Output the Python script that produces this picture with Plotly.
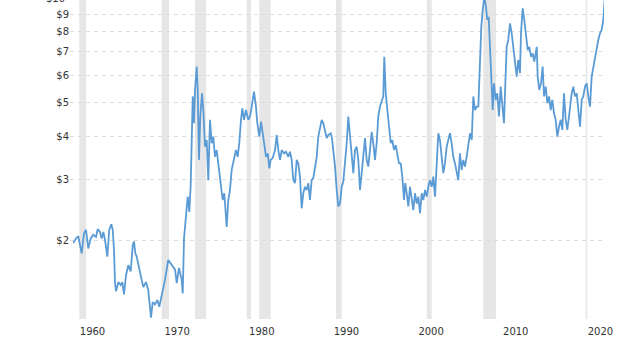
import plotly.graph_objects as go

# Price series (year, $ value)
years = [1957.73,1958.05,1958.32,1958.52,1958.72,1959.0,1959.23,1959.5,1959.79,1960.09,
1960.41,1960.61,1960.89,1961.09,1961.28,1961.48,1961.75,1961.98,1962.22,1962.39,
1962.54,1962.66,1962.78,1963.05,1963.33,1963.52,1963.72,1963.96,1964.23,1964.51,
1964.75,1964.90,1965.06,1965.22,1965.41,1965.61,1965.76,1966.0,1966.32,1966.59,
1966.79,1966.91,1967.11,1967.38,1967.66,1967.89,1968.36,1968.56,1968.95,1969.36,
1969.75,1969.95,1970.22,1970.54,1970.66,1970.81,1971.05,1971.25,1971.44,1971.60,
1971.84,1971.99,1972.11,1972.31,1972.43,1972.58,1972.73,1972.94,1973.09,1973.29,
1973.49,1973.68,1973.88,1974.08,1974.27,1974.47,1974.67,1974.94,1975.18,1975.38,
1975.57,1975.85,1976.04,1976.24,1976.44,1976.63,1976.95,1977.15,1977.34,1977.54,
1977.70,1977.90,1978.13,1978.41,1978.61,1978.81,1979.08,1979.31,1979.47,1979.70,
1979.91,1980.11,1980.30,1980.50,1980.70,1980.89,1981.05,1981.29,1981.56,1981.76,
1981.95,1982.15,1982.35,1982.62,1982.86,1983.13,1983.33,1983.53,1983.72,1983.92,
1984.12,1984.31,1984.51,1984.71,1984.90,1985.10,1985.30,1985.49,1985.69,1985.89,
1986.08,1986.28,1986.49,1986.67,1986.88,1987.08,1987.27,1987.47,1987.67,1987.86,
1988.14,1988.29,1988.45,1988.65,1988.85,1989.04,1989.24,1989.44,1989.63,1989.83,
1990.03,1990.22,1990.42,1990.62,1990.81,1991.01,1991.21,1991.40,1991.60,1991.80,
1991.99,1992.19,1992.39,1992.58,1992.78,1992.98,1993.17,1993.37,1993.57,1993.76,
1993.96,1994.16,1994.35,1994.47,1994.64,1994.83,1995.03,1995.23,1995.42,1995.62,
1995.82,1996.01,1996.21,1996.41,1996.60,1996.80,1996.95,1997.12,1997.31,1997.51,
1997.71,1997.90,1998.10,1998.30,1998.49,1998.69,1998.89,1999.08,1999.28,1999.48,
1999.67,1999.87,2000.07,2000.26,2000.46,2000.66,2000.85,2001.05,2001.25,2001.44,
2001.64,2001.84,2002.03,2002.23,2002.43,2002.62,2002.82,2003.02,2003.21,2003.41,
2003.61,2003.80,2004.0,2004.20,2004.39,2004.59,2004.80,2004.99,2005.19,2005.39,
2005.58,2005.78,2005.93,2006.10,2006.28,2006.48,2006.64,2006.80,2006.96,2007.16,
2007.28,2007.43,2007.63,2007.82,2008.02,2008.22,2008.41,2008.61,2008.77,2008.93,
2009.12,2009.32,2009.52,2009.71,2009.91,2010.11,2010.30,2010.50,2010.62,2010.82,
2011.01,2011.21,2011.41,2011.60,2011.80,2012.0,2012.19,2012.48,2012.59,2012.78,
2012.98,2013.18,2013.34,2013.54,2013.73,2013.93,2014.13,2014.32,2014.52,2014.72,
2014.91,2015.11,2015.31,2015.50,2015.70,2015.90,2016.09,2016.29,2016.61,2016.80,
2017.0,2017.20,2017.39,2017.59,2017.79,2017.98,2018.18,2018.38,2018.57,2018.77,
2018.97,2019.16,2019.36,2019.56,2019.75,2019.95,2020.15,2020.34,2020.54]

prices = [1.97,2.03,2.06,1.94,1.84,2.10,2.15,1.90,2.03,2.08,
2.05,2.16,2.12,2.03,2.12,2.01,1.80,2.15,2.23,2.15,
1.88,1.51,1.43,1.52,1.49,1.52,1.40,1.59,1.70,1.63,
1.94,1.99,1.84,1.80,1.72,1.65,1.56,1.47,1.52,1.44,
1.28,1.20,1.33,1.31,1.35,1.29,1.46,1.54,1.76,1.70,
1.65,1.51,1.67,1.54,1.41,2.03,2.35,2.68,2.42,2.89,
5.21,4.36,5.43,6.35,5.43,3.42,4.56,5.32,4.76,3.73,
3.90,2.99,4.46,3.82,3.99,3.49,3.65,3.20,2.86,2.62,
2.74,2.19,2.62,2.80,3.20,3.34,3.65,3.49,3.82,4.46,
4.81,4.46,4.76,4.46,4.56,4.87,5.38,4.87,4.36,3.99,
4.41,4.08,3.73,3.49,3.57,3.23,3.42,3.46,3.65,4.03,
3.65,3.42,3.65,3.57,3.61,3.49,3.61,3.42,2.99,2.93,
3.42,3.34,3.06,2.48,2.74,2.86,2.80,2.93,2.62,2.99,
3.03,3.27,3.49,3.99,4.26,4.46,4.36,4.12,3.95,4.03,
4.08,3.95,3.65,3.27,2.80,2.51,2.56,2.86,2.96,3.34,
3.82,4.56,4.08,3.49,3.13,3.65,3.73,3.42,2.80,3.13,
3.57,3.95,3.42,3.27,3.65,4.12,3.82,3.42,3.82,4.56,
4.87,5.09,5.21,6.78,5.32,4.76,4.26,3.82,3.90,3.65,
3.77,3.57,3.34,3.34,3.06,2.62,2.93,2.74,2.51,2.86,
2.62,2.45,2.74,2.56,2.68,2.40,2.74,2.62,2.80,2.68,
2.86,2.99,2.86,3.06,2.68,3.42,4.08,3.90,3.42,3.13,
3.34,3.73,3.90,4.08,3.82,3.49,3.34,3.13,2.99,3.57,
3.20,3.42,3.27,3.49,3.82,4.08,3.90,5.21,4.76,4.87,
4.87,6.49,8.28,9.25,10.1,9.44,8.65,8.84,7.24,5.81,
4.76,5.68,5.09,5.32,4.56,5.56,4.87,4.36,5.68,7.24,
7.58,8.46,7.92,7.24,6.49,5.94,6.64,6.08,7.92,9.35,
8.65,7.74,7.09,7.24,6.78,6.93,6.56,7.24,5.94,5.44,
5.68,6.35,5.21,5.56,4.98,5.21,4.76,5.09,4.66,4.46,
3.99,4.26,4.46,4.17,5.32,4.46,4.17,4.56,5.32,5.56,
5.21,5.32,4.76,4.26,5.09,5.21,5.56,5.68,5.21,4.87,
5.94,6.35,6.64,7.24,7.58,7.92,8.10,8.65,10.3]

# Shaded periods (axis years as drawn)
shade_start = [1958.44, 1968.17, 1972.11, 1978.22, 1979.70, 1988.77, 1999.48, 2006.17, 2018.26]
shade_end   = [1959.23, 1969.04, 1973.41, 1978.72, 1981.05, 1989.44, 2000.07, 2007.67, 2018.45]

x_ticks = [1960, 1970, 1980, 1990, 2000, 2010, 2020]
y_ticks = [2, 3, 4, 5, 6, 7, 8, 9]
y_labels = ["$" + str(v) for v in y_ticks]

fig = go.Figure()
fig.add_trace(go.Scatter(x=years, y=prices, mode="lines",
                         line=dict(color="#5b9bd5", width=1.8),
                         hoverinfo="skip", showlegend=False))

for s, e in zip(shade_start, shade_end):
    fig.add_shape(type="rect", xref="x", yref="paper", x0=s, x1=e, y0=0, y1=1,
                  fillcolor="#e6e6e6", line=dict(width=0), layer="below")

font = dict(family="DejaVu Sans", size=10, color="#333333")

# top label, partly cut off by the top edge as in the original
fig.add_annotation(text="$10", xref="paper", yref="paper", x=0, y=1,
                   xanchor="right", yanchor="middle", xshift=-3, yshift=2,
                   showarrow=False, font=font)

fig.update_layout(
    width=640, height=340,
    margin=dict(l=70, r=36, t=0, b=21),
    paper_bgcolor="white", plot_bgcolor="white",
    font=font,
    xaxis=dict(range=[1957.342, 2020.425], tickvals=x_ticks,
               showgrid=False, zeroline=False, showline=False, ticks="",
               tickfont=font, ticklabelstandoff=5, automargin=False),
    yaxis=dict(type="log", range=[0.07539, 0.99467], tickvals=y_ticks, ticktext=y_labels,
               showgrid=True, gridcolor="#dddddd", griddash="4px,4px", gridwidth=1,
               zeroline=False, showline=False, ticks="", tickfont=font, automargin=False),
)

fig.write_html("out.html", config={"displayModeBar": False, "staticPlot": True},
               post_script="document.body.style.margin='0';")
